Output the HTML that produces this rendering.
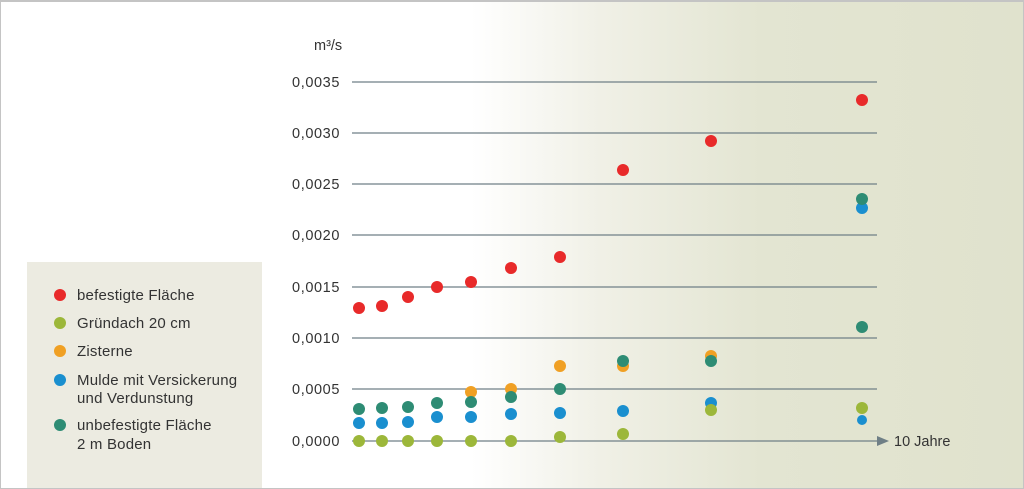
<!DOCTYPE html>
<html><head><meta charset="utf-8"><style>
body{margin:0;width:1024px;height:488px;overflow:hidden;font-family:"Liberation Sans",sans-serif}
#bg{position:absolute;left:0;top:0;width:1022px;height:486px;border:1px solid #c4c4c4;border-top:2px solid #c4c4c4;
background:linear-gradient(to right,#fff 0,#fff 470px,#f0f0e6 600px,#e3e5d2 760px,#e0e2cd 1024px)}
#leg{position:absolute;left:27px;top:262px;width:235px;height:226px;background:#ecebe1}
</style></head><body><div id="bg"></div><div id="leg"></div>
<svg width="1024" height="488" style="position:absolute;left:0;top:0" font-family="Liberation Sans, sans-serif">
<g stroke="#6f7f86" stroke-width="1.2">
<line x1="352" x2="877" y1="82" y2="82"/><line x1="352" x2="877" y1="133" y2="133"/>
<line x1="352" x2="877" y1="184" y2="184"/><line x1="352" x2="877" y1="235" y2="235"/>
<line x1="352" x2="877" y1="287" y2="287"/><line x1="352" x2="877" y1="338" y2="338"/>
<line x1="352" x2="877" y1="389" y2="389"/><line x1="352" x2="878" y1="441" y2="441"/>
</g>
<polygon points="877,436 889,441 877,446" fill="#6f7f86"/>
<g font-size="14.5" fill="#333" text-anchor="end" letter-spacing="0.6">
<text x="340" y="87">0,0035</text><text x="340" y="138">0,0030</text><text x="340" y="189">0,0025</text>
<text x="340" y="240">0,0020</text><text x="340" y="292">0,0015</text><text x="340" y="343">0,0010</text>
<text x="340" y="394">0,0005</text><text x="340" y="446">0,0000</text>
</g>
<text x="314" y="50" font-size="14.5" fill="#333">m³/s</text>
<text x="894" y="446" font-size="14.5" fill="#333">10 Jahre</text>
<g fill="#e82a2a">
<circle cx="359" cy="308" r="6"/><circle cx="382" cy="306" r="6"/><circle cx="408" cy="297" r="6"/><circle cx="437" cy="287" r="6"/><circle cx="471" cy="282" r="6"/><circle cx="511" cy="268" r="6"/><circle cx="560" cy="257" r="6"/><circle cx="623" cy="170" r="6"/><circle cx="711" cy="141" r="6"/><circle cx="862" cy="100" r="6"/>
</g>
<g fill="#f0a024">
<circle cx="471" cy="392" r="6"/><circle cx="511" cy="389" r="6"/><circle cx="560" cy="366" r="6"/><circle cx="623" cy="366" r="6"/><circle cx="711" cy="356" r="6"/>
</g>
<g fill="#1a8fcf">
<circle cx="359" cy="423" r="6"/><circle cx="382" cy="423" r="6"/><circle cx="408" cy="422" r="6"/><circle cx="437" cy="417" r="6"/><circle cx="471" cy="417" r="6"/><circle cx="511" cy="414" r="6"/><circle cx="560" cy="413" r="6"/><circle cx="623" cy="411" r="6"/><circle cx="711" cy="403" r="6"/><circle cx="862" cy="208" r="6"/><circle cx="862" cy="420" r="5"/>
</g>
<g fill="#9cb73a">
<circle cx="359" cy="441" r="6"/><circle cx="382" cy="441" r="6"/><circle cx="408" cy="441" r="6"/><circle cx="437" cy="441" r="6"/><circle cx="471" cy="441" r="6"/><circle cx="511" cy="441" r="6"/><circle cx="560" cy="437" r="6"/><circle cx="623" cy="434" r="6"/><circle cx="711" cy="410" r="6"/><circle cx="862" cy="408" r="6"/>
</g>
<g fill="#2e8c74">
<circle cx="359" cy="409" r="6"/><circle cx="382" cy="408" r="6"/><circle cx="408" cy="407" r="6"/><circle cx="437" cy="403" r="6"/><circle cx="471" cy="402" r="6"/><circle cx="511" cy="397" r="6"/><circle cx="560" cy="389" r="6"/><circle cx="623" cy="361" r="6"/><circle cx="711" cy="361" r="6"/><circle cx="862" cy="199" r="6"/><circle cx="862" cy="327" r="6"/>
</g>
<circle cx="60" cy="295" r="6" fill="#e82a2a"/><circle cx="60" cy="323" r="6" fill="#9cb73a"/>
<circle cx="60" cy="351" r="6" fill="#f0a024"/><circle cx="60" cy="380" r="6" fill="#1a8fcf"/>
<circle cx="60" cy="425" r="6" fill="#2e8c74"/>
<g font-size="15" fill="#333" letter-spacing="0.2">
<text x="77" y="300">befestigte Fläche</text><text x="77" y="328">Gründach 20 cm</text>
<text x="77" y="356">Zisterne</text><text x="77" y="385">Mulde mit Versickerung</text>
<text x="77" y="403">und Verdunstung</text><text x="77" y="430">unbefestigte Fläche</text>
<text x="77" y="449">2 m Boden</text>
</g>
</svg></body></html>
